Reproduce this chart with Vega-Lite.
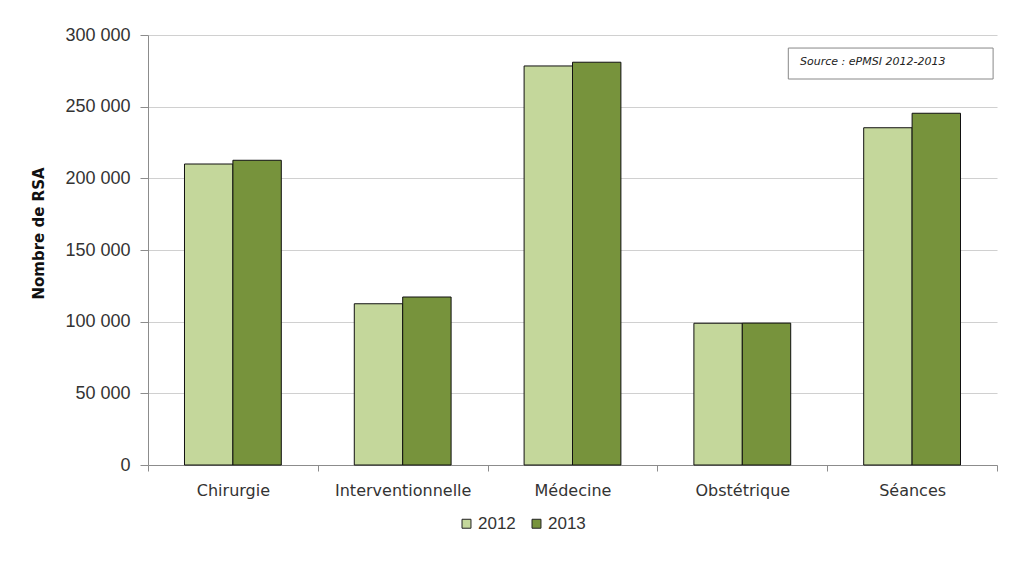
{
  "$schema": "https://vega.github.io/schema/vega-lite/v6.json",
  "width": 849,
  "height": 430,
  "autosize": {"type": "none"},
  "padding": {"left": 148, "top": 35, "right": 27, "bottom": 98},
  "background": "white",
  "config": {
    "view": {"stroke": null},
    "font": "DejaVu Sans"
  },
  "data": {
    "values": [
      {"cat": "Chirurgie", "year": "2012", "rsa": 210000},
      {"cat": "Chirurgie", "year": "2013", "rsa": 212600},
      {"cat": "Interventionnelle", "year": "2012", "rsa": 112500},
      {"cat": "Interventionnelle", "year": "2013", "rsa": 117200},
      {"cat": "Médecine", "year": "2012", "rsa": 278400},
      {"cat": "Médecine", "year": "2013", "rsa": 281000},
      {"cat": "Obstétrique", "year": "2012", "rsa": 98900},
      {"cat": "Obstétrique", "year": "2013", "rsa": 99000},
      {"cat": "Séances", "year": "2012", "rsa": 235300},
      {"cat": "Séances", "year": "2013", "rsa": 245400}
    ]
  },
  "layer": [
    {
      "mark": {"type": "bar", "stroke": "#111111", "strokeWidth": 1},
      "encoding": {
        "x": {
          "field": "cat", "type": "nominal", "sort": null,
          "scale": {"paddingInner": 0, "paddingOuter": 0},
          "axis": {
            "title": null, "labelAngle": 0, "labelFontSize": 16, "labelColor": "#333333",
            "labelFont": "DejaVu Sans", "labelPadding": 11,
            "domainColor": "#8c8c8c", "tickColor": "#8c8c8c", "tickBand": "extent", "tickSize": 6
          }
        },
        "xOffset": {"field": "year", "type": "nominal", "scale": {"paddingInner": 0, "paddingOuter": 0.754}},
        "y": {
          "field": "rsa", "type": "quantitative",
          "scale": {"domain": [0, 300000], "nice": false},
          "axis": {
            "title": "Nombre de RSA", "titleFontSize": 15, "titleFontWeight": "bold", "titleColor": "#111111",
            "titleFont": "DejaVu Sans", "titlePadding": 18, "titleY": 198,
            "values": [0, 50000, 100000, 150000, 200000, 250000, 300000],
            "labelExpr": "replace(format(datum.value, ','), /,/g, ' ')",
            "labelFontSize": 18, "labelFont": "Liberation Sans", "labelColor": "#333333", "labelPadding": 10,
            "tickSize": 8, "tickColor": "#8c8c8c", "domainColor": "#8c8c8c",
            "gridColor": "#d0d0d0", "gridWidth": 1.2
          }
        },
        "color": {
          "field": "year", "type": "nominal",
          "scale": {"domain": ["2012", "2013"], "range": ["#c4d79b", "#77933c"]},
          "legend": {
            "orient": "none", "legendX": 310, "legendY": 480, "direction": "horizontal", "title": null,
            "symbolType": "square", "symbolStrokeColor": "#222222", "symbolStrokeWidth": 1,
            "symbolSize": 80, "symbolOpacity": 1, "labelFontSize": 17, "labelFont": "Liberation Sans", "labelColor": "#333333",
            "labelOffset": 3, "columnPadding": 12
          }
        }
      }
    },
    {
      "data": {"values": [{}]},
      "mark": {"type": "rect", "fill": "white", "stroke": "#888888", "strokeWidth": 1, "xOffset": 46, "x2Offset": 81},
      "encoding": {
        "x": {"datum": "Obstétrique"},
        "x2": {"datum": "Séances"},
        "y": {"datum": 290900},
        "y2": {"datum": 269300}
      }
    },
    {
      "data": {"values": [{}]},
      "mark": {"type": "text", "text": "Source : ePMSI 2012-2013", "fontStyle": "italic", "fontSize": 11, "font": "DejaVu Sans", "align": "left", "baseline": "middle", "xOffset": -112, "color": "#222222"},
      "encoding": {
        "x": {"datum": "Séances"},
        "y": {"datum": 281000}
      }
    }
  ]
}
